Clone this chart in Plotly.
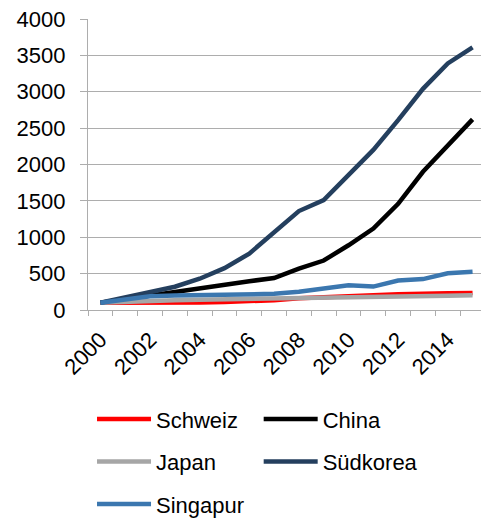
import plotly.graph_objects as go

years = list(range(2000, 2016))
schweiz = [100, 98, 96, 98, 103, 110, 120, 135, 160, 178, 195, 202, 215, 228, 230, 235]
china = [100, 150, 210, 260, 310, 350, 395, 440, 570, 680, 890, 1120, 1460, 1900, 2270, 2620]
japan = [100, 115, 127, 135, 142, 146, 149, 155, 165, 170, 176, 181, 186, 191, 196, 202]
suedkorea = [100, 170, 250, 320, 430, 575, 775, 1060, 1360, 1510, 1850, 2200, 2610, 3040, 3390, 3610]
singapur = [100, 145, 190, 200, 202, 203, 205, 222, 252, 292, 340, 322, 405, 425, 505, 525]

series = [
    ("Schweiz", schweiz, "#FF0000", "legend"),
    ("China", china, "#000000", "legend2"),
    ("Japan", japan, "#A6A6A6", "legend3"),
    ("Südkorea", suedkorea, "#243F5E", "legend4"),
    ("Singapur", singapur, "#3B77AF", "legend5"),
]

FONT = "Liberation Sans, Arial, sans-serif"
GRID = "#ADADAD"

fig = go.Figure()
for name, vals, color, leg in series:
    fig.add_trace(go.Scatter(
        x=years, y=vals, name=name, mode="lines",
        line=dict(color=color, width=4.5),
        legend=leg, showlegend=True,
    ))

fig.update_layout(
    width=481, height=519, autosize=False,
    margin=dict(l=88, r=0, t=19, b=209, autoexpand=False),
    showlegend=True,
    paper_bgcolor="white", plot_bgcolor="white",
    font=dict(family=FONT, size=22, color="black"),
    xaxis=dict(
        range=[1999.5, 2015.34],
        tickvals=[2000, 2002, 2004, 2006, 2008, 2010, 2012, 2014],
        ticktext=[str(y) for y in range(2000, 2015, 2)],
        tickangle=-45, ticks="", showgrid=False, zeroline=False,
        showline=True, linecolor=GRID, linewidth=1.3,
        ticklabelstandoff=7,
        minor=dict(ticks="outside", ticklen=5, tickcolor=GRID, tickwidth=1.3,
                   tick0=1999.5, dtick=1, showgrid=False),
        tickfont=dict(size=22),
    ),
    yaxis=dict(
        range=[0, 4000], dtick=500, tick0=0,
        showgrid=True, gridcolor=GRID, gridwidth=1.3,
        zeroline=False, showline=True, linecolor=GRID, linewidth=1.3,
        ticks="outside", ticklen=7, tickcolor=GRID, tickwidth=1.3,
        ticklabelstandoff=10,
        tickfont=dict(size=22),
    ),
)

# one legend box per entry, laid out in two columns below the plot
col_x = [0.1913, 0.5378]
row_y = [0.1921, 0.1104, 0.0283]
slots = {"legend": (0, 0), "legend2": (1, 0), "legend3": (0, 1),
         "legend4": (1, 1), "legend5": (0, 2)}
for key, (c, r) in slots.items():
    fig.update_layout({key: dict(
        x=col_x[c], y=row_y[r], xref="container", yref="container",
        xanchor="left", yanchor="middle", itemwidth=54,
        orientation="h", bgcolor="rgba(0,0,0,0)", borderwidth=0,
        font=dict(family=FONT, size=22, color="black"),
    )})

fig.write_html("out.html")
